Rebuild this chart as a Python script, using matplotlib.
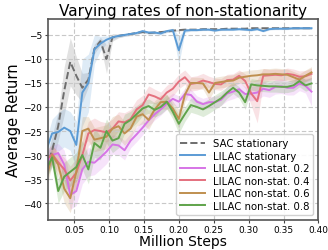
import matplotlib
matplotlib.use('Agg')
import matplotlib.pyplot as plt
import numpy as np

# evaluation points (million steps)
steps = np.linspace(0.01, 0.39, 45)

sac_stat = [-33, -29, -24, -16.6, -10.6, -13.5, -16, -14.3, -7.9, -6.3, -10, -5.5, -5.2, -5.0, -4.8,
            -4.6, -4.4, -4.6, -4.5, -4.4, -4.3, -4.1, -4.0, -3.9, -3.9, -3.9, -3.8, -3.8, -3.8, -3.8,
            -3.7, -3.7, -3.7, -3.7, -3.6, -3.6, -3.6, -3.6, -3.6, -3.6, -3.6, -3.6, -3.6, -3.6, -3.6]
lilac_stat = [-29, -25.5, -25.2, -24.3, -25, -27.9, -17, -15, -8, -6.8, -6, -5.5, -5.2, -5.0, -4.8,
              -4.6, -4.2, -4.5, -4.5, -4.7, -4.2, -4.0, -8.2, -4.1, -4.0, -4.0, -3.9, -3.9, -4.1, -3.9,
              -3.9, -3.9, -3.8, -3.9, -4.0, -3.8, -4.2, -3.8, -3.7, -3.7, -3.7, -3.6, -3.6, -3.6, -3.6]
ns_02 = [-32, -30, -29.6, -32, -38.3, -37.5, -33, -31.4, -31.6, -30.5, -29.3, -27.8, -28, -29, -27,
         -25.7, -24.3, -22.8, -21.5, -20.5, -19.3, -18.3, -18.9, -17.3, -17.5, -18.9, -19.4, -19, -19, -18.5,
         -17.2, -16.8, -16.3, -17.3, -17.2, -17, -16.2, -16.5, -15.8, -15.7, -16, -16, -15.1, -15.6, -16.8]
ns_04 = [-31, -29.8, -31.5, -33, -35.3, -33.7, -30, -25.5, -24.8, -25, -25.3, -24.5, -23, -23.2, -22.5,
         -20.5, -19.6, -17.4, -17.8, -18.4, -17, -16.2, -14.7, -13.8, -15.2, -15, -14.5, -14.8, -15.2, -15.3,
         -14.4, -14.3, -13.5, -14.6, -17.2, -18.8, -13.5, -13.4, -13.3, -13.4, -13.1, -13.3, -13.7, -13.6, -13.1]
ns_06 = [-35.1, -30, -32, -37, -39, -33.5, -25, -24.5, -26.8, -26.5, -26.2, -24.5, -24, -25.5, -24.5,
         -22, -21.5, -22.7, -20.5, -19, -18.9, -20.3, -22.5, -17.5, -15, -15, -15.1, -17, -15, -14.8,
         -14.6, -14.5, -13.9, -13.7, -13.5, -13.4, -13.2, -13.2, -13.1, -13.2, -13.3, -13.8, -14.3, -13.5, -12.8]
ns_08 = [-33, -30.5, -37.5, -34.5, -33.5, -32.5, -30, -33, -27.5, -28.5, -25, -27, -26.5, -23.5, -22.7,
         -21.5, -20.3, -19.8, -20.6, -20, -18.9, -21, -23.5, -21.5, -19.6, -20, -20.5, -19.8, -19, -18.2,
         -17, -16, -17, -19, -15.3, -15.5, -15.6, -15.7, -15.7, -15.8, -15.8, -15.5, -14.6, -15.5, -15.1]

# half-width of the shaded regions
sac_band = [2, 3, 3, 5, 5, 4, 3, 1.5, 1, 0.8, 3, 0.8, 0.4, 0.3, 0.3] + [0.2] * 30
lilac_band = [2, 3, 4, 4, 4, 5, 7, 6, 3, 1.5, 0.8, 0.4, 0.3, 0.3, 0.3, 0.3, 0.3, 0.3, 0.3, 0.3, 0.3,
              0.4, 3, 0.4] + [0.2] * 21
ns02_band = [2, 2, 2, 3, 3, 3, 3, 3, 2.5, 2.5, 2.5, 2, 2, 2, 1.5, 1.5, 1.5, 1.2, 1.2, 1.2, 1.2, 1.2,
             1.2, 1.2, 1.2, 1.2, 1.2, 1.2, 1.2, 1.2, 1.5, 1.5, 1.5, 1.5, 1.5, 1.5, 1.5, 1.5, 1.5, 1.5,
             1.5, 1.5, 1.5, 1.5, 3]
ns04_band = [2, 2, 2, 2.5, 3, 3, 3, 2.5, 2.5, 2, 2, 2, 2, 2, 2, 2, 2, 1.8, 1.5, 1.5, 1.5, 1.5,
             1.5, 1.5, 1.5, 1.5, 1.5, 1.2, 1.2, 1.2, 1.2, 1.2, 1.2, 1.5, 2.5, 4.5, 1.5, 1.2, 1.2, 1.2,
             1.2, 1.2, 1.2, 1.2, 1.2]
ns06_band = [2, 2, 2.5, 3, 3, 3, 3, 2.5, 2.5, 2.5, 2.5, 2.5, 2.5, 2.5, 2, 2, 2, 2, 1.8, 1.5, 1.5,
             1.5, 2, 1.5, 1.2, 1.2, 1.2, 1.5, 1.2, 1.2, 1.2, 1.2, 1.2, 1.2, 1.2, 1.2, 1.2, 1.2, 1.2,
             1.2, 1.2, 1.2, 1.2, 1.2, 1.2]
ns08_band = [2, 2, 2.5, 3, 3, 3, 3, 3, 3, 2.5, 2.5, 2.5, 2, 2, 1.8, 1.8, 1.5, 1.5, 1.5, 1.5, 1.5,
             1.5, 2, 1.5, 1.5, 1.5, 1.5, 1.5, 1.5, 1.5, 1.2, 1.2, 1.2, 1.5, 1.2, 1.2, 1.2, 1.2, 1.2,
             1.2, 1.2, 1.2, 1.2, 1.2, 1.2]

series = [
    ('SAC stationary', sac_stat, sac_band, '#6e6e6e', '--'),
    ('LILAC stationary', lilac_stat, lilac_band, '#5b9bd5', '-'),
    ('LILAC non-stat. 0.2', ns_02, ns02_band, '#d674e6', '-'),
    ('LILAC non-stat. 0.4', ns_04, ns04_band, '#e4707e', '-'),
    ('LILAC non-stat. 0.6', ns_06, ns06_band, '#bf8f4f', '-'),
    ('LILAC non-stat. 0.8', ns_08, ns08_band, '#5fa34a', '-'),
]

fig = plt.figure(figsize=(3.28, 2.51), dpi=100)
ax = fig.add_axes([0.146, 0.12, 0.825, 0.80])

for label, y, band, color, ls in series:
    y = np.array(y)
    band = np.array(band)
    ax.fill_between(steps, y - band, y + band, color=color, alpha=0.2, linewidth=0)
    ax.plot(steps, y, color=color, linestyle=ls, linewidth=1.4, label=label)

ax.set_xlim(0.0125, 0.4)
ax.set_ylim(-43.5, -1.7)
ax.set_xticks([0.05, 0.10, 0.15, 0.20, 0.25, 0.30, 0.35, 0.40])
ax.set_xticklabels(['0.05', '0.10', '0.15', '0.20', '0.25', '0.30', '0.35', '0.40'])
ax.set_yticks([-40, -35, -30, -25, -20, -15, -10, -5])
ax.tick_params(labelsize=6.5, length=2.5, pad=1.5, color='#444444')
ax.grid(True, linestyle=(0, (4, 2)), color='#c8c8c8', linewidth=0.8)
for s in ax.spines.values():
    s.set_color('#555555')
    s.set_linewidth(1.2)

ax.set_title('Varying rates of non-stationarity', fontsize=11, pad=3)
ax.set_xlabel('Million Steps', fontsize=10, labelpad=0)
ax.set_ylabel('Average Return', fontsize=10.5, labelpad=2)
ax.legend(loc='lower right', fontsize=7.3, handlelength=2.4, borderpad=0.4,
          labelspacing=0.25, framealpha=0.9)

fig.savefig('out.png', dpi=100)
